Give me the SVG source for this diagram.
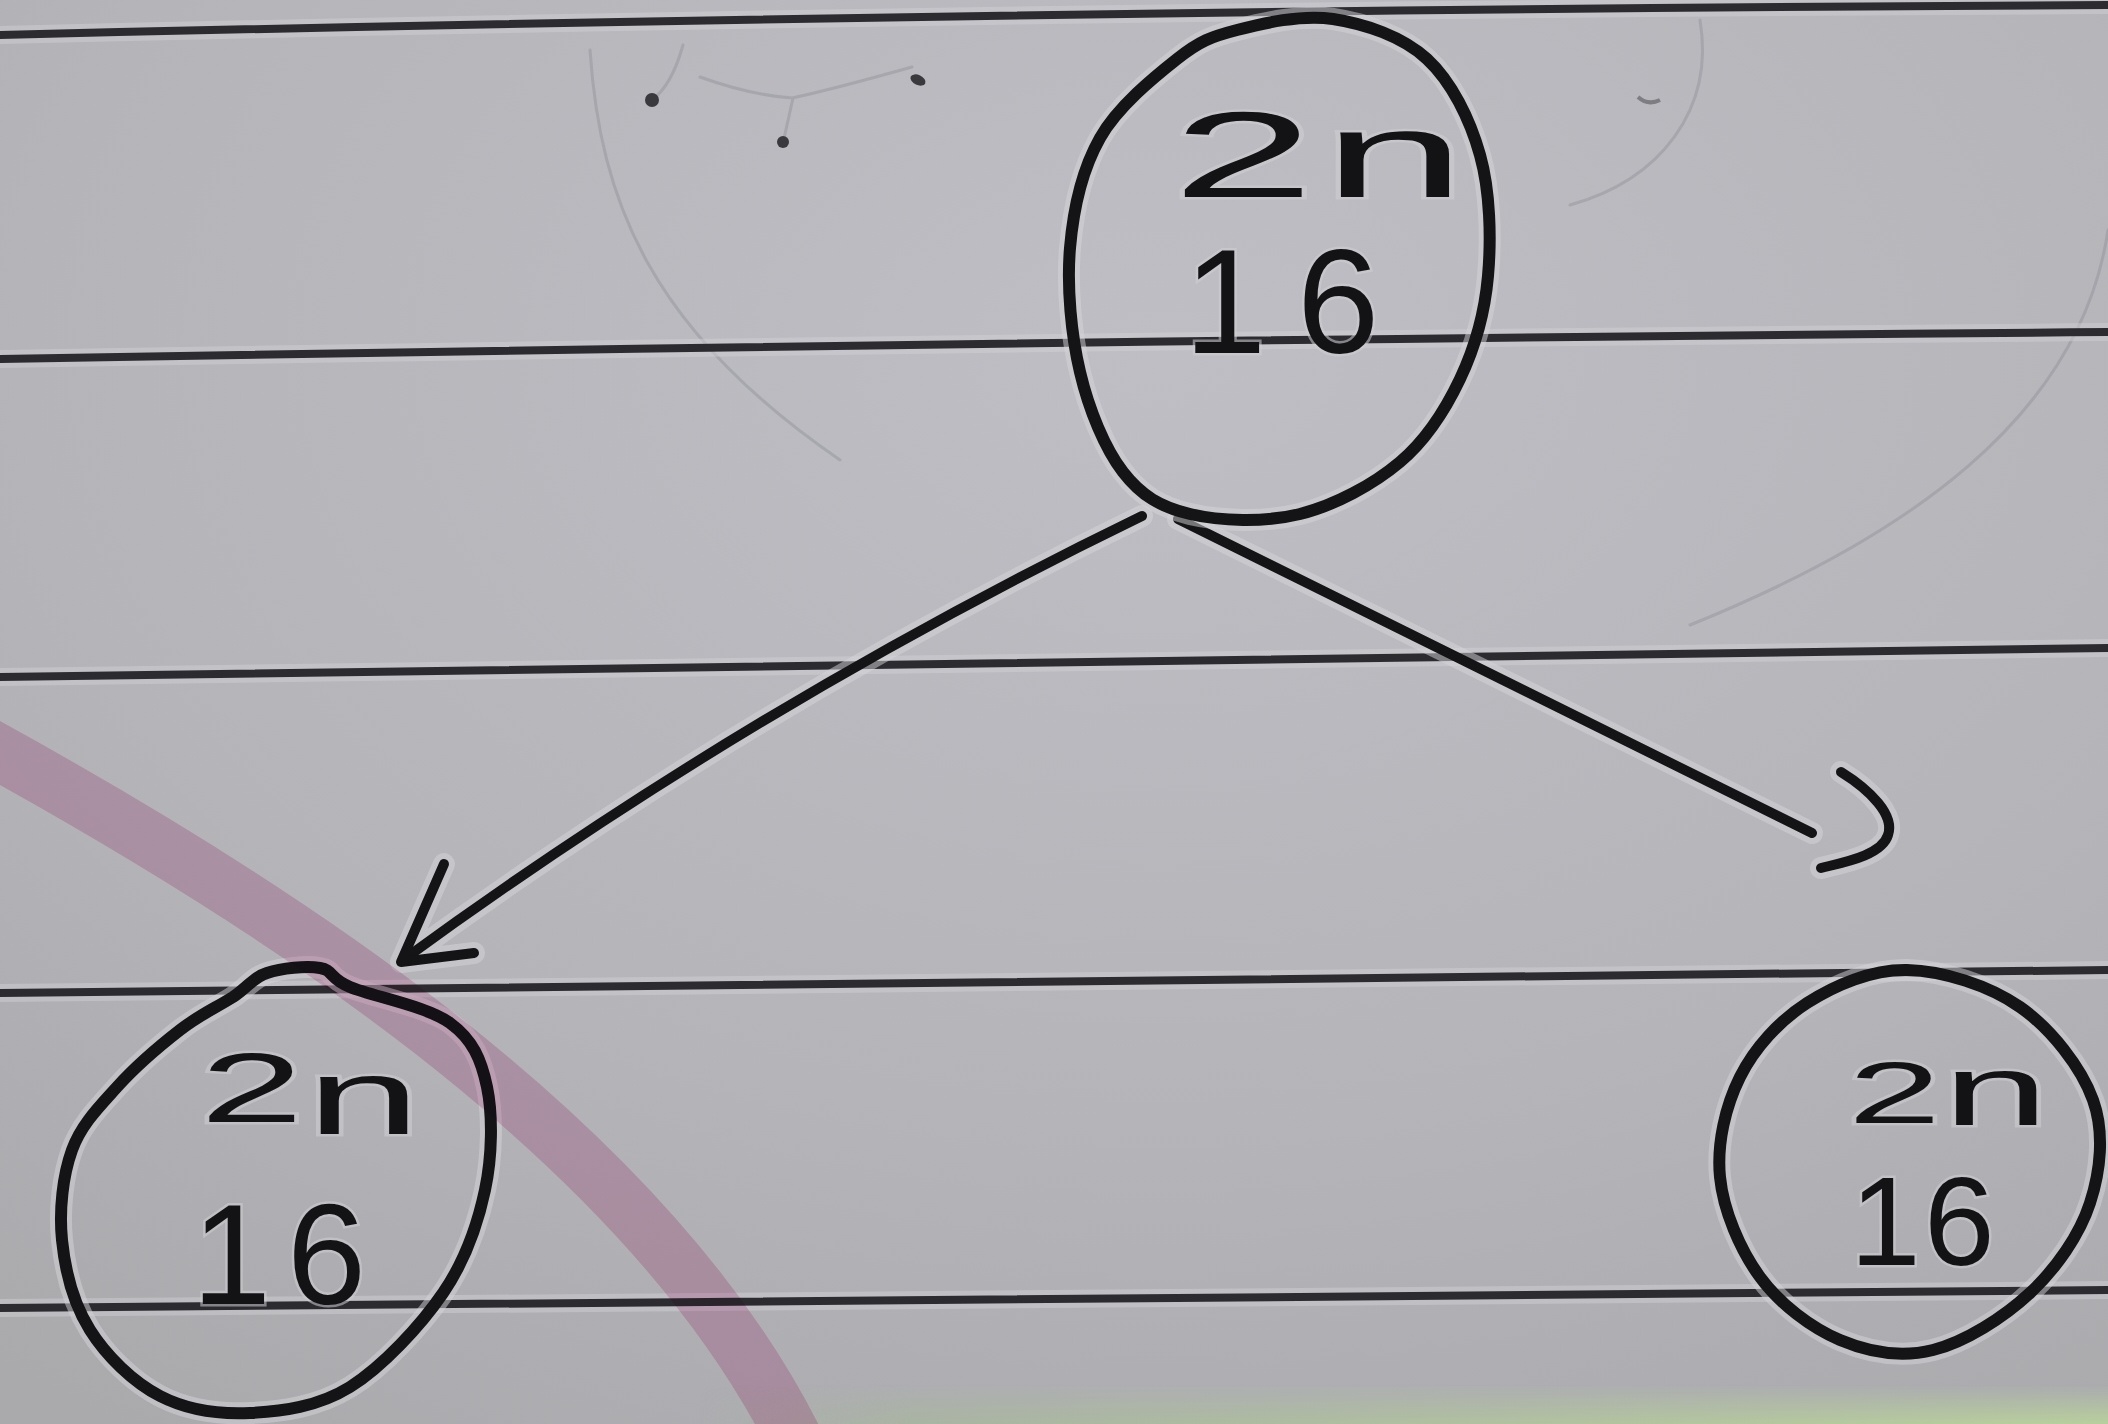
<svg xmlns="http://www.w3.org/2000/svg" xmlns:xlink="http://www.w3.org/1999/xlink" width="2108" height="1424" viewBox="0 0 2108 1424">
  <defs>
    <radialGradient id="paper" cx="0.55" cy="0.25" r="0.9">
      <stop offset="0" stop-color="#bebec4"/>
      <stop offset="0.6" stop-color="#b4b4b9"/>
      <stop offset="1" stop-color="#aaaaad"/>
    </radialGradient>
    <linearGradient id="greenEdge" x1="0" y1="0" x2="1" y2="0">
      <stop offset="0" stop-color="#aab2a5" stop-opacity="0"/>
      <stop offset="0.15" stop-color="#a9b4a2"/>
      <stop offset="1" stop-color="#b8cf9c"/>
    </linearGradient>
    <linearGradient id="greenFade" x1="0" y1="0" x2="0" y2="1">
      <stop offset="0" stop-color="#fff" stop-opacity="0"/>
      <stop offset="1" stop-color="#fff" stop-opacity="1"/>
    </linearGradient>
    <mask id="greenMask">
      <rect x="700" y="1385" width="1408" height="39" fill="url(#greenFade)"/>
    </mask>
    <!-- hand-drawn node outlines -->
    <path id="ring-top" d="M1333,19 C1364.7,23.8 1402.5,36.3 1427,59 C1451.5,81.7 1469.8,118.8 1480,155 C1490.2,191.2 1491.3,238.7 1488,276 C1484.7,313.3 1474.7,348 1460,379 C1445.3,410 1426.7,439.5 1400,462 C1373.3,484.5 1335,505.3 1300,514 C1265,522.7 1219.5,521 1190,514 C1160.5,507 1141.3,495.7 1123,472 C1104.7,448.3 1088.8,409.3 1080,372 C1071.2,334.7 1066.7,287 1070,248 C1073.3,209 1082.2,169.5 1100,138 C1117.8,106.5 1154.2,77 1177,59 C1199.8,41 1211,36.7 1237,30 C1263,23.3 1301.3,14.2 1333,19 Z"/>
    <path id="ring-left" d="M233,997 C247.5,987.5 252.5,977.8 267,973 C281.5,968.2 306.2,965.7 320,968 C333.8,970.3 328.3,977.8 350,987 C371.7,996.2 427.2,1006.3 450,1023 C472.8,1039.7 481.2,1059.2 487,1087 C492.8,1114.8 492.3,1155.7 485,1190 C477.7,1224.3 465.5,1260.2 443,1293 C420.5,1325.8 382.2,1367 350,1387 C317.8,1407 281.7,1411.5 250,1413 C218.3,1414.5 186.7,1409.8 160,1396 C133.3,1382.2 106.3,1356 90,1330 C73.7,1304 65,1270 62,1240 C59,1210 62.8,1175.5 72,1150 C81.2,1124.5 99,1107 117,1087 C135,1067 160.7,1045 180,1030 C199.3,1015 213.7,1009 233,997 Z"/>
    <path id="ring-right" d="M1907,970 C1942.5,970.7 1989,985.3 2020,1007 C2051,1028.7 2081.3,1067.3 2093,1100 C2104.7,1132.7 2100.5,1170.8 2090,1203 C2079.5,1235.2 2056.2,1268.5 2030,1293 C2003.8,1317.5 1964.7,1342.2 1933,1350 C1901.3,1357.8 1868.8,1352.2 1840,1340 C1811.2,1327.8 1780,1304.2 1760,1277 C1740,1249.8 1723.3,1210.3 1720,1177 C1716.7,1143.7 1725.5,1106 1740,1077 C1754.5,1048 1779.2,1020.8 1807,1003 C1834.8,985.2 1871.5,969.3 1907,970 Z"/>
  </defs>
  <style>
    .rule-halo { fill: none; stroke: #d3d3d7; stroke-width: 18; stroke-opacity: 0.45; }
    .rule { fill: none; stroke: #2c2c30; stroke-width: 8; stroke-linecap: round; }
    .pencil { fill: none; stroke: #85858b; stroke-width: 3; stroke-opacity: 0.35; stroke-linecap: round; }
    .halo { fill: none; stroke: #d6d6da; stroke-width: 22; stroke-opacity: 0.5; stroke-linejoin: round; stroke-linecap: round; }
    .ink { fill: none; stroke: #141417; stroke-width: 12; stroke-linejoin: round; stroke-linecap: round; }
    .wire { fill: none; stroke: #141417; stroke-width: 10; stroke-linejoin: round; stroke-linecap: round; }
    .lbl { font-family: "Liberation Sans", Arial, sans-serif; fill: #131316; stroke: #cfcfd4; stroke-width: 5; stroke-opacity: 0.55; paint-order: stroke; }
  </style>

  <!-- paper -->
  <rect x="0" y="0" width="2108" height="1424" fill="url(#paper)"/>
  <rect x="700" y="1385" width="1408" height="39" fill="url(#greenEdge)" mask="url(#greenMask)"/>

  <!-- faint pencil marks showing through the sheet -->
  <g id="pencil-marks">
    <path class="pencil" d="M590,50 C600,200 650,330 840,460"/>
    <path class="pencil" d="M2108,230 C2080,420 1900,540 1690,625"/>
    <path class="pencil" d="M1700,20 C1715,110 1660,180 1570,205"/>
    <path class="pencil" d="M683,45 Q672,85 652,100 M700,77 Q750,95 792,98 Q830,90 912,67 M793,98 L783,143"/>
    <circle cx="652" cy="100" r="7" fill="#3a3a3e"/>
    <circle cx="783" cy="142" r="6" fill="#3a3a3e"/>
    <ellipse cx="918" cy="80" rx="8" ry="5" fill="#3a3a3e" transform="rotate(25 918 80)"/>
    <path d="M1638,97 Q1648,106 1660,100" fill="none" stroke="#55555a" stroke-width="4" stroke-opacity="0.6"/>
  </g>

  <!-- ruled lines -->
  <g id="ruling">
    <path class="rule-halo" d="M-5,35 Q1050,10 2113,5"/>
    <path class="rule-halo" d="M-5,359 Q1100,340 2113,332"/>
    <path class="rule-halo" d="M-5,677 Q1050,663 2113,648"/>
    <path class="rule-halo" d="M-5,993 Q1100,985 2113,970"/>
    <path class="rule-halo" d="M-5,1308 Q1100,1302 2113,1290"/>
    <path class="rule" d="M-5,35 Q1050,10 2113,5"/>
    <path class="rule" d="M-5,359 Q1100,340 2113,332"/>
    <path class="rule" d="M-5,677 Q1050,663 2113,648"/>
    <path class="rule" d="M-5,993 Q1100,985 2113,970"/>
    <path class="rule" d="M-5,1308 Q1100,1302 2113,1290"/>
  </g>

  <!-- connectors -->
  <g id="connectors">
    <path class="halo" d="M1142,516 Q752,705 403,960 M444,864 L401,962 L474,953"/>
    <path class="halo" d="M1178,519 L1812,833 M1841,772 C1870,790 1895,815 1888,835 C1882,855 1845,862 1821,868"/>
    <path class="wire" d="M1142,516 Q752,705 403,960"/>
    <path class="wire" d="M444,864 L401,962 L474,953"/>
    <path class="wire" d="M1178,519 L1812,833"/>
    <path class="wire" d="M1841,772 C1870,790 1895,815 1888,835 C1882,855 1845,862 1821,868"/>
  </g>

  <!-- parent cell -->
  <g id="node-top">
    <use xlink:href="#ring-top" class="halo"/>
    <use xlink:href="#ring-top" class="ink"/>
    <text class="lbl" font-size="122" transform="translate(1172 197) scale(2.1 1)"><tspan x="0">2</tspan><tspan x="72">n</tspan></text>
    <text class="lbl" font-size="148" y="353"><tspan x="1184">1</tspan><tspan x="1297">6</tspan></text>
  </g>

  <!-- daughter cell, left -->
  <g id="node-left">
    <use xlink:href="#ring-left" class="halo"/>
    <use xlink:href="#ring-left" class="ink"/>
    <text class="lbl" font-size="98" transform="translate(200 1122) scale(1.9 1)"><tspan x="0">2</tspan><tspan x="56" dy="12" font-size="108">n</tspan></text>
    <text class="lbl" font-size="142" y="1304"><tspan x="192">1</tspan><tspan x="287">6</tspan></text>
  </g>

  <!-- daughter cell, right -->
  <g id="node-right">
    <use xlink:href="#ring-right" class="halo"/>
    <use xlink:href="#ring-right" class="ink"/>
    <text class="lbl" font-size="88" transform="translate(1848 1123) scale(1.9 1)"><tspan x="0">2</tspan><tspan x="50" dy="2" font-size="100">n</tspan></text>
    <text class="lbl" font-size="127" y="1265"><tspan x="1850">1</tspan><tspan x="1924">6</tspan></text>
  </g>

  <!-- highlighter stroke across the page -->
  <path d="M-20,742 C250,890 640,1130 795,1440" fill="none" stroke="#f3cde2" stroke-width="56" style="mix-blend-mode:multiply"/>
</svg>
